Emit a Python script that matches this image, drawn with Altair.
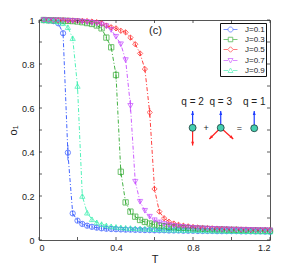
import altair as alt
import pandas as pd

# ---------------- data ----------------
T = [0.025, 0.05, 0.075, 0.1, 0.125, 0.15, 0.175, 0.2, 0.225, 0.25, 0.275, 0.3,
     0.325, 0.35, 0.375, 0.4, 0.425, 0.45, 0.475, 0.5, 0.525, 0.55, 0.575, 0.6,
     0.625, 0.65, 0.675, 0.7, 0.725, 0.75, 0.775, 0.8, 0.825, 0.85, 0.875, 0.9,
     0.925, 0.95, 0.975, 1.0, 1.025, 1.05, 1.075, 1.1, 1.125, 1.15, 1.175, 1.2]

J01 = [0.999, 0.998, 0.995, 0.985, 0.94, 0.397, 0.121, 0.088, 0.073, 0.065, 0.06, 0.056,
       0.053, 0.051, 0.05, 0.049, 0.048, 0.047, 0.047, 0.046, 0.046, 0.045, 0.045, 0.044,
       0.044, 0.044, 0.043, 0.043, 0.043, 0.042, 0.042, 0.042, 0.041, 0.041, 0.041, 0.041,
       0.040, 0.040, 0.040, 0.040, 0.040, 0.039, 0.039, 0.039, 0.039, 0.039, 0.038, 0.038]
J03 = [1.0, 0.999, 0.999, 0.998, 0.997, 0.996, 0.995, 0.993, 0.99, 0.986, 0.982, 0.975,
       0.962, 0.92, 0.876, 0.75, 0.31, 0.171, 0.129, 0.106, 0.091, 0.082, 0.075, 0.07,
       0.066, 0.063, 0.06, 0.058, 0.056, 0.055, 0.054, 0.053, 0.052, 0.051, 0.050, 0.049,
       0.048, 0.048, 0.047, 0.046, 0.046, 0.045, 0.045, 0.044, 0.044, 0.043, 0.043, 0.042]
J05 = [1.0, 1.0, 0.999, 0.999, 0.999, 0.998, 0.998, 0.997, 0.996, 0.995, 0.993, 0.99,
       0.985, 0.975, 0.967, 0.962, 0.951, 0.944, 0.92, 0.89, 0.848, 0.777, 0.58, 0.232,
       0.129, 0.099, 0.083, 0.075, 0.069, 0.065, 0.062, 0.059, 0.057, 0.055, 0.054, 0.053,
       0.052, 0.051, 0.050, 0.049, 0.049, 0.048, 0.048, 0.047, 0.047, 0.046, 0.046, 0.045]
J07 = [1.0, 0.999, 0.999, 0.999, 0.998, 0.997, 0.996, 0.995, 0.993, 0.991, 0.988, 0.985,
       0.98, 0.972, 0.955, 0.924, 0.89, 0.818, 0.61, 0.265, 0.174, 0.133, 0.106, 0.09,
       0.08, 0.073, 0.068, 0.064, 0.061, 0.059, 0.057, 0.055, 0.054, 0.053, 0.052, 0.051,
       0.050, 0.049, 0.049, 0.048, 0.047, 0.047, 0.046, 0.046, 0.045, 0.045, 0.045, 0.044]
J09 = [0.999, 0.998, 0.997, 0.993, 0.985, 0.967, 0.917, 0.70, 0.20, 0.124, 0.094, 0.08,
       0.072, 0.066, 0.062, 0.059, 0.057, 0.055, 0.054, 0.053, 0.052, 0.051, 0.050, 0.049,
       0.048, 0.047, 0.047, 0.046, 0.046, 0.045, 0.045, 0.044, 0.044, 0.043, 0.043, 0.042,
       0.042, 0.042, 0.041, 0.041, 0.041, 0.040, 0.040, 0.040, 0.039, 0.039, 0.039, 0.038]

SERIES = ["J=0.1", "J=0.3", "J=0.5", "J=0.7", "J=0.9"]
VALUES = [J01, J03, J05, J07, J09]
COLORS = ["#2f55ff", "#2ea82e", "#ff2a2a", "#c64cff", "#3cf0b0"]
SHAPES = ["circle", "square", "diamond", "triangle-down", "triangle-up"]
ERR_DEFAULT = 0.011
ERR_BIG = {("J=0.1", 0.15): 0.035, ("J=0.9", 0.2): 0.02, ("J=0.3", 0.4): 0.02,
           ("J=0.3", 0.425): 0.02, ("J=0.7", 0.475): 0.027, ("J=0.5", 0.575): 0.02}

# legend symbols: line stub + marker
LEG_PATHS = [
    "M-1.4,0L-0.5,0M0.5,0L1.4,0M0.5,0A0.5,0.5,0,1,1,-0.5,0A0.5,0.5,0,1,1,0.5,0Z",
    "M-1.4,0L-0.45,0M0.45,0L1.4,0M-0.45,-0.45L0.45,-0.45L0.45,0.45L-0.45,0.45Z",
    "M-1.4,0L-0.55,0M0.55,0L1.4,0M0,-0.55L0.55,0L0,0.55L-0.55,0Z",
    "M-1.4,0L-0.5,0M0.5,0L1.4,0M-0.5,-0.4L0.5,-0.4L0,0.5Z",
    "M-1.4,0L-0.5,0M0.5,0L1.4,0M-0.5,0.4L0.5,0.4L0,-0.5Z",
]

X_TICKS = [0, 0.2, 0.4, 0.6, 0.8, 1.0, 1.2]
Y_TICKS = [0, 0.1, 0.2, 0.3, 0.4, 0.5, 0.6, 0.7, 0.8, 0.9, 1.0]

# schematic (q = 2 + q = 3 = q = 1)
Q_LABELS = ["q = 2", "q = 3", "q = 1"]
Q_T = [0.798, 0.944, 1.118]
Q_O = [0.51, 0.51, 0.508]
Q_LABEL_O = 0.629
BLUE_TIP_O = 0.586
RED_FROM_T = [0.798, 0.944, 0.944]
RED_TIP_T = [0.798, 0.885, 1.009]
RED_TIP_O = [0.429, 0.459, 0.459]
RED_ANGLE = [180, 225, 135]
OPS = ["+", "="]
OPS_T = [0.868, 1.041]
OPS_O = [0.507, 0.507]
PANEL_LABEL = "(c)"
PANEL_T, PANEL_O = 0.605, 0.95

# ---------------- frames ----------------
rows = []
for name, vals in zip(SERIES, VALUES):
    for t, v in zip(T, vals):
        e = ERR_BIG.get((name, t), ERR_DEFAULT)
        rows.append({"T": t, "o": v, "J": name, "lo": v - e, "hi": v + e})
df = pd.DataFrame(rows)

W, H = 231, 220
FONT = "Liberation Sans"
TXT = "#222222"

xs = alt.Scale(domain=[0, 1.2], nice=False)
ys = alt.Scale(domain=[0, 1], nice=False)
X = alt.X("T:Q", scale=xs, axis=alt.Axis(values=X_TICKS, title="T", labelPadding=3,
                                          titlePadding=1, format="~g"))
Y = alt.Y("o:Q", scale=ys, axis=alt.Axis(values=Y_TICKS, title="o₁", labelPadding=5,
                                          titlePadding=3, format="~g"))
col = alt.Color("J:N", scale=alt.Scale(domain=SERIES, range=COLORS), legend=None)
shp = alt.Shape("J:N", scale=alt.Scale(domain=SERIES, range=SHAPES), legend=None)

base = alt.Chart(df)
lines = base.mark_line(strokeDash=[4, 2, 1, 2], strokeWidth=0.9).encode(x=X, y=Y, color=col)
errs = base.mark_rule(strokeWidth=0.8).encode(x=X, y=alt.Y("lo:Q", scale=ys, title="o₁"),
                                              y2="hi:Q", color=col)
pts = base.mark_point(filled=False, size=28, strokeWidth=1).encode(x=X, y=Y, color=col, shape=shp)
main = alt.layer(lines, errs, pts)

# legend-only layer (no marks drawn)
leg = alt.Legend(title=None, orient="none", legendX=181, legendY=3, padding=1,
                 strokeColor="#111111", fillColor="white", labelFontSize=8, labelFont=FONT,
                 labelColor=TXT, rowPadding=0, symbolOffset=4, labelOffset=9,
                 symbolStrokeWidth=0.9, symbolSize=100)
leg_df = pd.DataFrame({"lab": SERIES})
legend_layer = alt.Chart(leg_df).transform_filter("false").mark_point(
    filled=False, strokeWidth=0.9).encode(
    color=alt.Color("lab:N", scale=alt.Scale(domain=SERIES, range=COLORS), legend=leg),
    shape=alt.Shape("lab:N", scale=alt.Scale(domain=SERIES, range=LEG_PATHS), legend=leg),
)

# inward ticks
xt = pd.DataFrame({"T": X_TICKS})
yt = pd.DataFrame({"o": Y_TICKS})
tk = dict(color="#333333", strokeWidth=0.8)
tick_b = alt.Chart(xt).mark_rule(**tk).encode(x=X, y=alt.value(H), y2=alt.value(H - 3))
tick_t = alt.Chart(xt).mark_rule(**tk).encode(x=X, y=alt.value(0), y2=alt.value(3))
tick_l = alt.Chart(yt).mark_rule(**tk).encode(y=Y, x=alt.value(0), x2=alt.value(3))
tick_r = alt.Chart(yt).mark_rule(**tk).encode(y=Y, x=alt.value(W), x2=alt.value(W - 3))

# schematic
blue_df = pd.DataFrame({"T": Q_T, "o": Q_O, "o2": [BLUE_TIP_O] * 3, "tip": [BLUE_TIP_O] * 3})
red_df = pd.DataFrame({"T": RED_FROM_T, "o": [Q_O[0], Q_O[1], Q_O[1]], "T2": RED_TIP_T,
                       "o2": RED_TIP_O, "ang": RED_ANGLE})
HEAD = "M0,0L0.38,1L-0.38,1Z"
blue_line = alt.Chart(blue_df).mark_rule(color="#1d3cff", strokeWidth=1.2).encode(
    x=X, y=Y, y2="o2:Q")
blue_head = alt.Chart(blue_df).mark_point(shape=HEAD, filled=True, color="#1d3cff",
                                          size=60, opacity=1).encode(
    x=X, y=alt.Y("tip:Q", scale=ys, title="o₁"))
red_line = alt.Chart(red_df).mark_rule(color="#ff2020", strokeWidth=1.2).encode(
    x=X, y=Y, x2="T2:Q", y2="o2:Q")
red_head = alt.Chart(red_df).mark_point(shape=HEAD, filled=True, color="#ff2020",
                                        size=60, opacity=1).encode(
    x=alt.X("T2:Q", scale=xs, title="T"), y=alt.Y("o2:Q", scale=ys, title="o₁"),
    angle=alt.Angle("ang:Q", scale=None))
circ_df = pd.DataFrame({"T": Q_T, "o": Q_O})
circles = alt.Chart(circ_df).mark_point(filled=True, fill="#45cfb0", stroke="#1b3b38",
                                        strokeWidth=0.8, size=48, opacity=1).encode(x=X, y=Y)
qlab_df = pd.DataFrame({"T": Q_T, "o": [Q_LABEL_O] * 3, "txt": Q_LABELS})
qlabels = alt.Chart(qlab_df).mark_text(font=FONT, fontSize=10, color=TXT).encode(
    x=X, y=Y, text="txt:N")
ops_df = pd.DataFrame({"T": OPS_T, "o": OPS_O, "txt": OPS})
ops = alt.Chart(ops_df).mark_text(font=FONT, fontSize=9, color=TXT).encode(
    x=X, y=Y, text="txt:N")
panel_df = pd.DataFrame({"T": [PANEL_T], "o": [PANEL_O], "txt": [PANEL_LABEL]})
panel = alt.Chart(panel_df).mark_text(font=FONT, fontSize=11, color=TXT).encode(
    x=X, y=Y, text="txt:N")

annot = alt.layer(blue_line, red_line, blue_head, red_head, circles, qlabels, ops, panel)

chart = alt.layer(main, tick_b, tick_t, tick_l, tick_r, annot, legend_layer).resolve_scale(
    color="independent", shape="independent"
).properties(
    width=W, height=H,
    autosize=alt.AutoSizeParams(type="none"),
    padding={"left": 31, "top": 12, "right": 20, "bottom": 28},
).configure_view(
    stroke="#555555", strokeWidth=1
).configure_axis(
    domain=False, ticks=False, grid=False, labelFont=FONT, labelFontSize=9,
    labelColor=TXT, titleFont=FONT, titleFontSize=11, titleFontWeight="normal",
    titleColor=TXT
).configure_legend(
    cornerRadius=0
)

chart.save("out.html", embed_options={"renderer": "svg", "actions": False})
